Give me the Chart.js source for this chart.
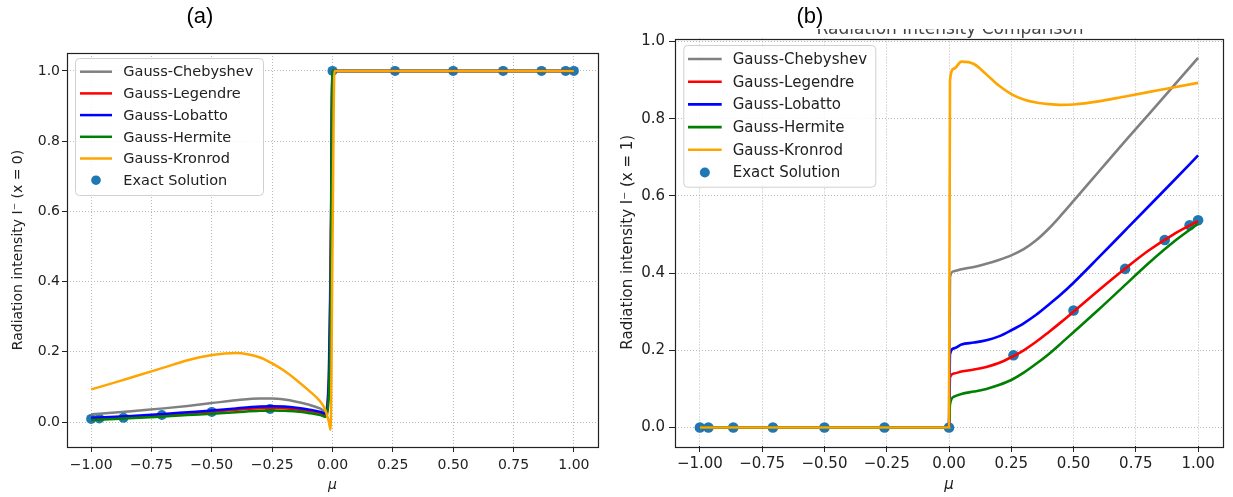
<!DOCTYPE html>
<html><head><meta charset="utf-8">
<script src="https://cdn.jsdelivr.net/npm/chart.js@4.4.0/dist/chart.umd.min.js"></script>
<style>
html,body{margin:0;padding:0;background:#fff;width:1233px;height:497px;overflow:hidden;}
#wa{position:absolute;left:0;top:0;width:612px;height:497px;}
#wb{position:absolute;left:612px;top:0;width:621px;height:497px;}
.lab{position:absolute;font-family:"Liberation Sans",Arial,sans-serif;font-size:22px;color:#000;top:3px;width:60px;text-align:center;}
#ttl{position:absolute;left:700px;width:500px;top:29px;height:9px;overflow:hidden;}
#ttl span{position:absolute;left:0;width:500px;text-align:center;top:-11px;font-family:"DejaVu Sans";font-size:17px;color:#444;white-space:nowrap;}
</style></head>
<body>
<div id="wa"><canvas id="ca"></canvas></div>
<div id="wb"><canvas id="cb"></canvas></div>
<div id="ttl"><span>Radiation Intensity Comparison</span></div>
<div class="lab" style="left:170px">(a)</div>
<div class="lab" style="left:780px">(b)</div>
<script>
// ---- data ----
const xTicks = [-1, -0.75, -0.5, -0.25, 0, 0.25, 0.5, 0.75, 1];
const yTicks = [0, 0.2, 0.4, 0.6, 0.8, 1.0];
const seriesNames = ['Gauss-Chebyshev','Gauss-Legendre','Gauss-Lobatto','Gauss-Hermite','Gauss-Kronrod'];
const exactName = 'Exact Solution';

// (a) x = 0
const muA   = [-1.0,-0.9,-0.8,-0.7,-0.6,-0.5,-0.4,-0.3,-0.25,-0.2,-0.15,-0.1,-0.05,-0.03,-0.015,-0.008,0.0,0.008,0.25,0.5,0.75,1.0];
const chebA = [0.022,0.027,0.033,0.039,0.046,0.054,0.062,0.067,0.067,0.064,0.058,0.050,0.038,0.030,0.150,0.450,1.0,1.0,1.0,1.0,1.0,1.0];
const legA  = [0.010,0.013,0.016,0.020,0.025,0.030,0.035,0.039,0.040,0.039,0.036,0.032,0.026,0.020,0.100,0.350,1.0,1.0,1.0,1.0,1.0,1.0];
const lobA  = [0.012,0.015,0.019,0.023,0.028,0.033,0.039,0.044,0.045,0.044,0.041,0.036,0.029,0.024,0.120,0.400,1.0,1.0,1.0,1.0,1.0,1.0];
const herA  = [0.006,0.009,0.012,0.016,0.020,0.024,0.028,0.032,0.033,0.032,0.030,0.026,0.020,0.015,0.080,0.300,1.0,1.0,1.0,1.0,1.0,1.0];
const kroA  = [0.093,0.113,0.134,0.155,0.176,0.191,0.197,0.184,0.167,0.146,0.120,0.091,0.058,0.035,0.000,-0.022,0.5,1.0,1.0,1.0,1.0,1.0];
const muExA = [-1,-0.966,-0.866,-0.707,-0.5,-0.259,0,0.259,0.5,0.707,0.866,0.966,1];
const exA   = [0.009,0.010,0.012,0.020,0.029,0.037,1.0,1.0,1.0,1.0,1.0,1.0,1.0];

// (b) x = 1
const muB   = [-1.0,-0.5,-0.1,-0.01,0.0,0.004,0.02,0.05,0.1,0.15,0.2,0.25,0.3,0.35,0.4,0.45,0.5,0.6,0.7,0.8,0.9,1.0];
const chebB = [0,0,0,0,0,0.390,0.405,0.410,0.416,0.424,0.434,0.446,0.462,0.485,0.515,0.550,0.587,0.662,0.737,0.810,0.884,0.958];
const legB  = [0,0,0,0,0,0.130,0.140,0.145,0.150,0.157,0.167,0.182,0.200,0.222,0.247,0.273,0.300,0.355,0.408,0.458,0.500,0.535];
const lobB  = [0,0,0,0,0,0.190,0.205,0.215,0.220,0.226,0.236,0.252,0.270,0.292,0.318,0.345,0.375,0.440,0.506,0.572,0.638,0.705];
const herB  = [0,0,0,0,0,0.060,0.080,0.087,0.093,0.100,0.110,0.123,0.142,0.165,0.190,0.218,0.247,0.305,0.365,0.425,0.480,0.528];
const kroB  = [0,0,0,0,0,0.900,0.930,0.948,0.942,0.915,0.886,0.864,0.850,0.842,0.838,0.836,0.837,0.845,0.857,0.869,0.881,0.893];
const muExB = [-1,-0.966,-0.866,-0.707,-0.5,-0.259,0,0.259,0.5,0.707,0.866,0.966,1];
const exB   = [0,0,0,0,0,0,0,0.187,0.303,0.411,0.486,0.524,0.537];

const lineColors = ['#808080','#ff0000','#0000ff','#008000','#ffa500'];
const exactColor = '#1f77b4';

// ---- helpers ----
const zip = (xs, ys) => xs.map((x, i) => ({x: x, y: ys[i]}));
const minus = s => s.replace('-', '\u2212');

function buildDatasets(mu, series, muEx, ex, lw, pr) {
  const ds = series.map((vals, i) => ({
    label: seriesNames[i], data: zip(mu, vals), borderColor: lineColors[i], backgroundColor: lineColors[i],
    borderWidth: lw, pointRadius: 0, showLine: true, cubicInterpolationMode: 'monotone', order: 5 - i
  }));
  ds.push({label: exactName, data: zip(muEx, ex), showLine: false, pointRadius: pr, pointHoverRadius: pr,
    backgroundColor: exactColor, borderColor: exactColor, borderWidth: 0, order: 10});
  return ds;
}

const boxLegend = {
  id: 'boxLegend',
  afterDatasetsDraw(chart, args, o) {
    const {ctx, chartArea: a} = chart;
    const x0 = a.left + o.dx, y0 = a.top + o.dy;
    ctx.save();
    ctx.beginPath();
    ctx.roundRect(x0 + 0.5, y0 + 0.5, o.w, o.h, 4);
    ctx.fillStyle = 'rgba(255,255,255,0.85)';
    ctx.fill();
    ctx.strokeStyle = '#d0d0d0';
    ctx.lineWidth = 1;
    ctx.stroke();
    ctx.font = o.font + 'px "DejaVu Sans"';
    ctx.textBaseline = 'middle';
    ctx.textAlign = 'left';
    chart.data.datasets.forEach((d, i) => {
      const cy = y0 + o.first + i * o.rowH;
      if (d.showLine) {
        ctx.beginPath();
        ctx.moveTo(x0 + o.l0, cy); ctx.lineTo(x0 + o.l1, cy);
        ctx.strokeStyle = d.borderColor; ctx.lineWidth = o.lw; ctx.stroke();
      } else {
        ctx.beginPath();
        ctx.arc(x0 + (o.l0 + o.l1) / 2, cy, o.r, 0, Math.PI * 2);
        ctx.fillStyle = d.backgroundColor; ctx.fill();
      }
      ctx.fillStyle = '#222';
      ctx.fillText(d.label, x0 + o.tx, cy + 1);
    });
    ctx.restore();
  }
};
const frame = {
  id: 'frame',
  afterDraw(chart) {
    const {ctx, chartArea: a} = chart;
    ctx.save();
    ctx.strokeStyle = '#222'; ctx.lineWidth = 1.2;
    ctx.strokeRect(Math.round(a.left) + 0.5, Math.round(a.top) + 0.5, Math.round(a.right - a.left), Math.round(a.bottom - a.top));
    ctx.restore();
  }
};

function makeChart(id, cfg) {
  const tickFont = {family: 'DejaVu Sans', size: cfg.fs};
  return new Chart(document.getElementById(id), {
    type: 'line',
    data: {datasets: cfg.datasets},
    plugins: [boxLegend, frame],
    options: {
      responsive: true, maintainAspectRatio: false, animation: false, devicePixelRatio: 1,
      layout: {padding: cfg.pad},
      plugins: {legend: {display: false}, tooltip: {enabled: false}, boxLegend: cfg.legend},
      scales: {
        x: {
          type: 'linear', min: -1.1, max: 1.1,
          afterBuildTicks: s => { s.ticks = xTicks.map(v => ({value: v})); },
          afterFit: s => { s.height = cfg.xh; },
          ticks: {font: tickFont, color: '#222', padding: cfg.xpad, maxRotation: 0, autoSkip: false,
            callback: v => minus(Number(v).toFixed(2))},
          grid: {color: '#b8b8b8', lineWidth: 1, tickColor: '#222', tickLength: cfg.tl, tickWidth: 1, tickBorderDash: []},
          border: {display: false, dash: [1, 2]},
          title: {display: true, text: 'μ', font: {family: 'DejaVu Sans', size: cfg.fs, style: 'italic'}, color: '#222', padding: {top: 0, bottom: 3}}
        },
        y: {
          type: 'linear', min: cfg.ymin, max: cfg.ymax,
          afterBuildTicks: s => { s.ticks = yTicks.map(v => ({value: v})); },
          afterFit: s => { s.width = cfg.yw; },
          ticks: {font: tickFont, color: '#222', padding: cfg.ypad, callback: v => minus(Number(v).toFixed(1))},
          grid: {color: '#b8b8b8', lineWidth: 1, tickColor: '#222', tickLength: cfg.tl, tickWidth: 1, tickBorderDash: []},
          border: {display: false, dash: [1, 2]},
          title: {display: true, text: cfg.ylabel, font: {family: 'DejaVu Sans', size: cfg.fs}, color: '#222', padding: {top: cfg.ytp, bottom: 0}}
        }
      }
    }
  });
}

makeChart('ca', {
  datasets: buildDatasets(muA, [chebA, legA, lobA, herA, kroA], muExA, exA, 2.5, 5),
  pad: {left: 0, right: 14, top: 53, bottom: 0}, xh: 50, yw: 67, tl: 5, xpad: 5, ypad: 2, fs: 14,
  ymin: -0.071, ymax: 1.051, ylabel: 'Radiation intensity I\u207B (x = 0)', ytp: 10,
  legend: {dx: 8, dy: 5, w: 188, h: 137, first: 13.7, rowH: 21.7, l0: 5, l1: 37, tx: 48.3, font: 14.5, lw: 2.5, r: 4.8}
});
makeChart('cb', {
  datasets: buildDatasets(muB, [chebB, legB, lobB, herB, kroB], muExB, exB, 2.6, 5.3),
  pad: {left: 0, right: 10, top: 38.5, bottom: 0}, xh: 51, yw: 63, tl: 6, xpad: 3, ypad: 4, fs: 15,
  ymin: -0.048, ymax: 1.008, ylabel: 'Radiation intensity I\u207B (x = 1)', ytp: 7,
  legend: {dx: 8.3, dy: 6.5, w: 192, h: 141.7, first: 14, rowH: 22.7, l0: 4.7, l1: 38.4, tx: 49.4, font: 15, lw: 2.6, r: 5}
});
</script>
</body></html>
